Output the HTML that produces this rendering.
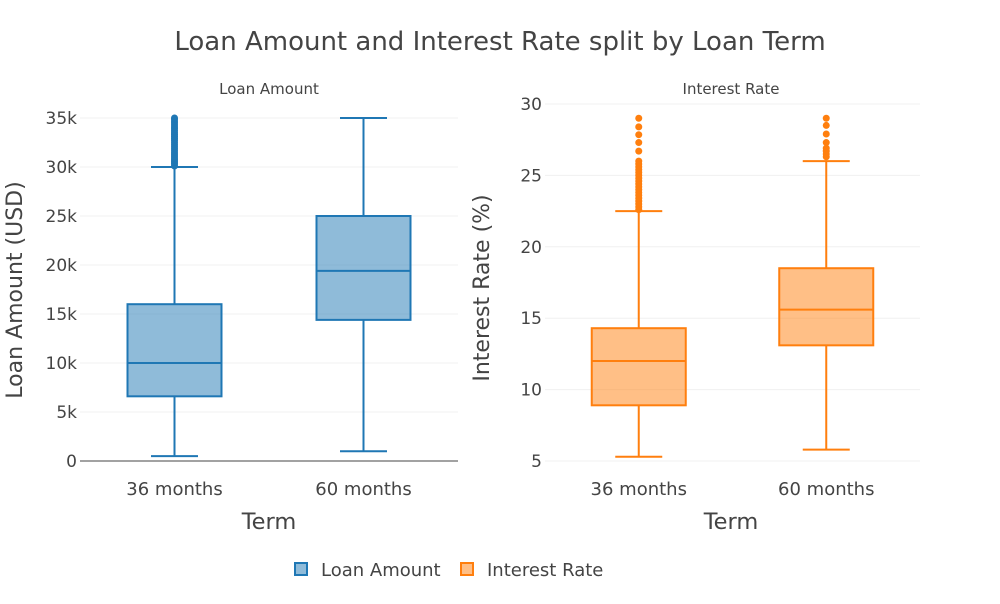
<!DOCTYPE html>
<html><head><meta charset="utf-8"><style>
body{margin:0;background:#fff;font-family:"DejaVu Sans",sans-serif}
svg text{font-family:"DejaVu Sans",sans-serif;fill:#444}
</style></head><body>
<svg id="c" width="1000" height="600">
<text x="500" y="50" font-size="26" text-anchor="middle">Loan Amount and Interest Rate split by Loan Term</text>
<text x="269" y="94" font-size="15" text-anchor="middle">Loan Amount</text>
<text x="731" y="94" font-size="15" text-anchor="middle">Interest Rate</text>
<text x="269" y="529" font-size="22.5" text-anchor="middle">Term</text>
<text x="731" y="529" font-size="22.5" text-anchor="middle">Term</text>
<text transform="translate(22,290) rotate(-90)" font-size="22" text-anchor="middle">Loan Amount (USD)</text>
<text transform="translate(489,288) rotate(-90)" font-size="22" text-anchor="middle">Interest Rate (%)</text>
<g>
<g><rect x="295" y="563" width="12" height="12" fill="rgba(31,119,180,0.5)" stroke="#1f77b4" stroke-width="2"/><text x="321" y="576" font-size="18">Loan Amount</text></g>
<g><rect x="461" y="563" width="12" height="12" fill="rgba(255,127,14,0.5)" stroke="#ff7f0e" stroke-width="2"/><text x="487" y="576" font-size="18">Interest Rate</text></g>
</g>
</svg>
<script>
const categories=["36 months","60 months"];
const loanTicks=[0,5,10,15,20,25,30,35];
const loanTickLabels=["0","5k","10k","15k","20k","25k","30k","35k"];
const rateTicks=[5,10,15,20,25,30];
const loanMin=[0.5,1.0],loanQ1=[6.6,14.4],loanMed=[10,19.4],loanQ3=[16,25],loanMax=[30,35];
const loanOut36=[30.1,30.3,30.5,30.7,30.9,31.1,31.3,31.5,31.7,31.9,32.1,32.3,32.5,32.7,32.9,33.1,33.3,33.5,33.7,33.9,34.1,34.3,34.5,34.7,34.9,35];
const loanOut60=[];
const rateMin=[5.3,5.8],rateQ1=[8.9,13.1],rateMed=[12,15.6],rateQ3=[14.3,18.5],rateMax=[22.5,26];
const rateOut36=[22.6,22.8,23,23.2,23.4,23.6,23.8,24,24.2,24.4,24.6,24.8,25,25.2,25.4,25.6,25.8,26,26.7,27.3,27.85,28.4,29];
const rateOut60=[26.3,26.5,26.7,26.9,27.3,27.9,28.5,29];
const svg=document.getElementById('c');const NS="http://www.w3.org/2000/svg";
function el(t,a,p){const e=document.createElementNS(NS,t);for(const k in a)e.setAttribute(k,a[k]);(p||svg).appendChild(e);return e;}
function panel(name,x0,x1,ymin,ymax,ticks,labels,color,fill,mins,q1,med,q3,maxs,outs){
 const y=v=>461-(v-ymin)/(ymax-ymin)*(ymax===35?343:357);
 const bw=(x1-x0)/categories.length;const xc=i=>x0+bw*(i+0.5);
 const g=el('g',{});
 ticks.forEach((t,i)=>{const l=el('line',{x1:x0,x2:x1,y1:y(t),y2:y(t),stroke:'#f0f0f0','stroke-width':1},g);
  const tx=el('text',{x:x0-3,y:y(t)+6,'font-size':17,'text-anchor':'end'},g);tx.textContent=labels?labels[i]:t;});
 if(ymin===0){const z=el('line',{x1:x0,x2:x1,y1:y(0),y2:y(0),stroke:'#444','stroke-width':1},g);}
 categories.forEach((c,i)=>{const cx=xc(i),hw=47,wh=23.5;
  const tx=el('text',{x:cx,y:495,'font-size':18,'text-anchor':'middle'},g);tx.textContent=c;
  const b=el('g',{stroke:color,'stroke-width':2,fill:fill},g);
  el('line',{x1:cx,x2:cx,y1:y(maxs[i]),y2:y(q3[i])},b);el('line',{x1:cx,x2:cx,y1:y(q1[i]),y2:y(mins[i])},b);
  el('line',{x1:cx-wh,x2:cx+wh,y1:y(maxs[i]),y2:y(maxs[i])},b);el('line',{x1:cx-wh,x2:cx+wh,y1:y(mins[i]),y2:y(mins[i])},b);
  el('rect',{x:cx-hw,y:y(q3[i]),width:2*hw,height:y(q1[i])-y(q3[i])},b);
  el('line',{x1:cx-hw,x2:cx+hw,y1:y(med[i]),y2:y(med[i])},b);
  outs[i].forEach(v=>{const p=el('circle',{cx:cx,cy:y(v),r:3.5,fill:color,stroke:'none'},g);});
 });
}
panel('loan',80,458,0,35,loanTicks,loanTickLabels,'#1f77b4','rgba(31,119,180,0.5)',loanMin,loanQ1,loanMed,loanQ3,loanMax,[loanOut36,loanOut60]);
panel('rate',545,920,5,30,rateTicks,null,'#ff7f0e','rgba(255,127,14,0.5)',rateMin,rateQ1,rateMed,rateQ3,rateMax,[rateOut36,rateOut60]);
</script>
</body></html>
